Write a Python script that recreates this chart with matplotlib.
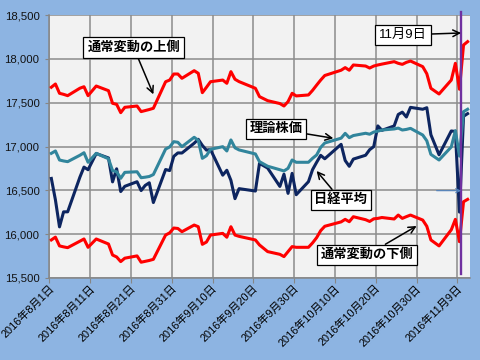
import matplotlib
matplotlib.use("Agg")
import matplotlib.pyplot as plt
import matplotlib.dates as mdates
import matplotlib.transforms as mtransforms
import numpy as np
from datetime import datetime

plt.rcParams['font.family'] = ['Liberation Sans', 'Noto Sans CJK JP']

dates = (
    ["2016-08-%02d" % d for d in [1, 2, 3, 4, 5, 8, 9, 10, 12, 15, 16, 17, 18, 19, 22, 23, 24, 25, 26, 29, 30, 31]]
    + ["2016-09-%02d" % d for d in [1, 2, 5, 6, 7, 8, 9, 12, 13, 14, 15, 16, 20, 21, 23, 26, 27, 28, 29, 30]]
    + ["2016-10-%02d" % d for d in [3, 4, 5, 6, 7, 11, 12, 13, 14, 17, 18, 19, 20, 21, 24, 25, 26, 27, 28, 31]]
    + ["2016-11-%02d" % d for d in [1, 2, 4, 7, 8, 9, 10, 11]]
)

nikkei = [
    16635.77, 16391.45, 16083.11, 16254.45, 16254.89, 16650.57, 16764.97, 16735.12, 16919.92, 16869.56,
    16596.51, 16745.64, 16486.01, 16545.82, 16598.19, 16497.36, 16555.95, 16586.07, 16360.71, 16737.49,
    16725.36, 16887.40,
    16926.84, 16925.68, 17037.67, 17081.98, 17012.44, 16958.77, 16965.76, 16672.92, 16729.04, 16614.24,
    16405.01, 16519.29, 16492.15, 16807.62, 16754.02, 16544.56, 16683.93, 16465.40, 16693.71, 16449.84,
    16598.67, 16735.65, 16819.24, 16899.10, 16860.09, 17024.76, 16840.00, 16774.24, 16856.37, 16900.12,
    16963.61, 16998.91, 17235.02, 17184.59, 17234.42, 17365.25, 17391.84, 17336.42, 17446.41, 17425.02,
    17442.40, 17134.68, 16905.36, 17177.21, 17171.38, 16251.54, 17344.42, 17374.79,
]

theory = [
    16922, 16949, 16846, 16835, 16827, 16900, 16929, 16820, 16922, 16860, 16725, 16712, 16637, 16705,
    16712, 16644, 16650, 16658, 16680, 16971, 16995, 17055,
    17048, 16998, 17105, 17070, 16865, 16895, 16968, 16998, 16949, 17075, 16985, 16961, 16915, 16827,
    16775, 16735, 16721, 16751, 16846, 16820,
    16820, 16865, 16903, 16990, 17040, 17095, 17150, 17101, 17125, 17151, 17140, 17165, 17175, 17188,
    17200, 17210, 17188, 17195, 17207, 17131,
    17065, 16910, 16846, 16995, 17181, 16890, 17397, 17425,
]

upper = [
    17676, 17713, 17607, 17595, 17580, 17665, 17682, 17580, 17690, 17637, 17493, 17481, 17386, 17447,
    17462, 17398, 17410, 17422, 17436, 17739, 17758, 17827,
    17827, 17778, 17865, 17835, 17614, 17675, 17739, 17758, 17721, 17854, 17767, 17740, 17664, 17569,
    17523, 17490, 17462, 17512, 17607, 17577,
    17588, 17640, 17700, 17758, 17810, 17870, 17900, 17870, 17930, 17918, 17895, 17918, 17930, 17940,
    17968, 17949, 17937, 17960, 17975, 17911,
    17830, 17664, 17599, 17758, 17949, 17653, 18158, 18196,
]

lower = [
    15934, 15966, 15866, 15855, 15846, 15920, 15945, 15850, 15945, 15888, 15762, 15740, 15687, 15726,
    15752, 15680, 15690, 15700, 15713, 15990, 16015, 16070,
    16065, 16028, 16104, 16085, 15884, 15910, 15990, 16009, 15965, 16085, 15990, 15975, 15934, 15877,
    15801, 15770, 15744, 15801, 15858, 15850,
    15850, 15900, 15960, 16040, 16090, 16140, 16169, 16142, 16199, 16165, 16145, 16175, 16180, 16190,
    16173, 16218, 16180, 16200, 16218, 16161,
    16090, 15934, 15866, 16050, 16169, 15914, 16370, 16397,
]

tick_dates = ["2016-08-01", "2016-08-11", "2016-08-21", "2016-08-31", "2016-09-10", "2016-09-20",
              "2016-09-30", "2016-10-10", "2016-10-20", "2016-10-30", "2016-11-09"]
tick_labels = ["2016年8月1日", "2016年8月11日", "2016年8月21日", "2016年8月31日", "2016年9月10日",
               "2016年9月20日", "2016年9月30日", "2016年10月10日", "2016年10月20日", "2016年10月30日",
               "2016年11月9日"]
yticks = [15500, 16000, 16500, 17000, 17500, 18000, 18500]

def dn(s):
    return mdates.date2num(datetime.strptime(s, "%Y-%m-%d"))

x = np.array([dn(s) for s in dates]) + 0.5
x0 = dn("2016-08-01")

fig = plt.figure(figsize=(4.8, 3.6), dpi=100)
fig.patch.set_facecolor('#8db4e2')
ax = fig.add_axes([0.1027, 0.2278, 0.8766, 0.7305])
ax.set_facecolor('#f2f2f2')

ax.plot(x, lower, color='#ff0000', lw=2.2, zorder=3)
ax.plot(x, upper, color='#ff0000', lw=2.2, zorder=3)
ax.plot(x, nikkei, color='#0d2560', lw=2.2, zorder=4)
ax.plot(x, theory, color='#31859c', lw=2.2, zorder=5)

ax.set_xlim(x0, x0 + 103.1)
ax.set_ylim(15500, 18500)
ax.set_yticks(yticks)
ax.set_yticklabels([f"{v:,}" for v in yticks])
ax.set_xticks([dn(s) for s in tick_dates])
ax.set_xticklabels(tick_labels)
ax.grid(True, color='#8c8c8c', lw=1.1, zorder=1)
ax.set_axisbelow(True)
for s in ['top', 'right']:
    ax.spines[s].set_visible(False)
for s in ['left', 'bottom']:
    ax.spines[s].set_color('#868686')
    ax.spines[s].set_linewidth(1.1)
ax.tick_params(axis='y', length=3, color='#868686', labelsize=8.2, pad=4, labelcolor='#111111')
ax.tick_params(axis='x', length=3.5, color='#868686', labelsize=7.9, pad=2, direction='out')
shift = mtransforms.ScaledTranslation(3 / 100, -1 / 100, fig.dpi_scale_trans)
for lab in ax.get_xticklabels():
    lab.set_rotation(45)
    lab.set_ha('right')
    lab.set_va('center')
    lab.set_rotation_mode('anchor')
    lab.set_transform(lab.get_transform() + shift)

# 11/9 vertical line
xv = dn("2016-11-09") + 0.9
ax.plot([xv, xv], [15540, 18530], color='#7030a0', lw=1.7, zorder=6, clip_on=False)

ap = dict(arrowstyle='->,head_length=0.5,head_width=0.25', color='black', lw=1.1,
          shrinkA=0, shrinkB=0)
bb = dict(boxstyle='square,pad=0.3', fc='white', ec='black', lw=0.9)
fs = 9.5

ax.annotate('通常変動の上側', xy=(x0 + 25.5, 17595), xytext=(0.2785, 0.868),
            textcoords='figure fraction', ha='center', va='center', fontsize=fs,
            fontweight='bold', bbox=bb, arrowprops=ap, zorder=8)
ax.annotate('理論株価', xy=(x0 + 69.6, 17094), xytext=(0.575, 0.642),
            textcoords='figure fraction', ha='center', va='center', fontsize=fs,
            fontweight='bold', bbox=bb, arrowprops=ap, zorder=8)
ax.annotate('日経平均', xy=(x0 + 65.5, 16721), xytext=(0.7104, 0.4444),
            textcoords='figure fraction', ha='center', va='center', fontsize=fs,
            fontweight='bold', bbox=bb, arrowprops=ap, zorder=8)
ax.annotate('通常変動の下側', xy=(x0 + 90.0, 16093), xytext=(0.7646, 0.2917),
            textcoords='figure fraction', ha='center', va='center', fontsize=fs,
            fontweight='bold', bbox=bb, arrowprops=ap, zorder=8, annotation_clip=False)
ax.annotate('11月9日', xy=(xv, 18295), xytext=(0.8396, 0.9028),
            textcoords='figure fraction', ha='center', va='center', fontsize=fs,
            bbox=bb, arrowprops=ap, zorder=8)
ax.annotate('', xy=(xv, 16496), xytext=(x0 + 94.9, 16496),
            arrowprops=dict(arrowstyle='->,head_length=0.3,head_width=0.15', color='#4f81bd',
                            lw=0.8, shrinkA=0, shrinkB=0), zorder=7)

fig.savefig('out.png', dpi=100, facecolor=fig.get_facecolor())
